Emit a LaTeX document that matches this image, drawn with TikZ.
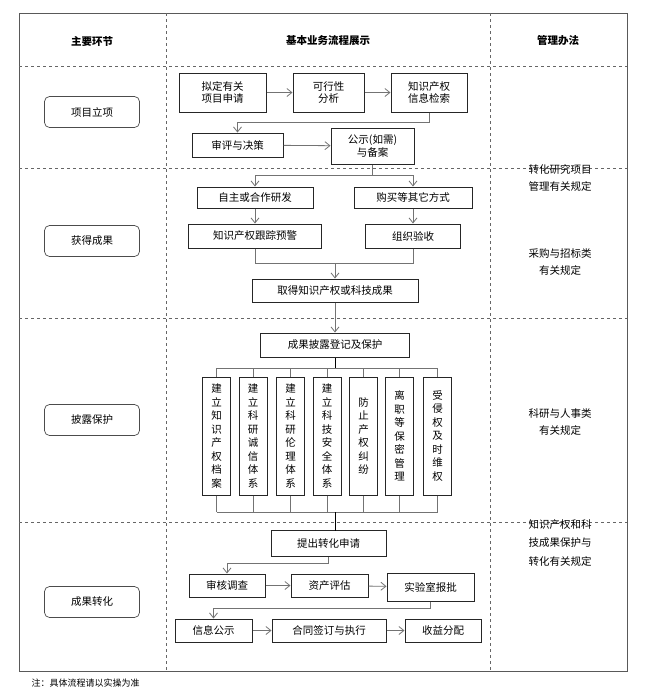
\documentclass[tikz,border=0pt]{standalone}
\usepackage{fontspec}
\setmainfont{Noto Sans CJK SC}
\usetikzlibrary{arrows.meta}
\begin{document}
\begin{tikzpicture}[x=1pt,y=-1pt,
  bx/.style={draw=black!85,line width=1pt,inner sep=0pt,align=center,font=\fontsize{10.5}{12.5}\selectfont},
  lab/.style={draw=black!70,rounded corners=5pt,line width=0.7pt,minimum width=95pt,minimum height=31pt,font=\fontsize{10.5}{12}\selectfont},
  ln/.style={draw=black!55,line width=0.8pt},
  ar/.style={ln,-{Straight Barb[length=5pt,width=8pt]}},
  dv/.style={draw=black!60,dashed,line width=0.5pt},
  vt/.style={bx,align=center}]
\useasboundingbox (0,0) rectangle (655,689);
% frame
\draw[black!65,line width=1pt] (19,13) rectangle (627,671);
\draw[dv] (166,13) -- (166,671);
\draw[dv] (490,13) -- (490,671);
\foreach \y in {66,168,318,522} \draw[dv] (19,\y) -- (627,\y);
% headers
\node[font=\bfseries\fontsize{10.5}{12}\selectfont] (h1) at (92,41) {主要环节};
\node[font=\bfseries\fontsize{10.5}{12}\selectfont] (h2) at (328,41) {基本业务流程展示};
\node[font=\bfseries\fontsize{10.5}{12}\selectfont] (h3) at (558,41) {管理办法};
% stage labels
\node[lab] (s1) at (92,112) {项目立项};
\node[lab] (s2) at (92,241) {获得成果};
\node[lab] (s3) at (92,420) {披露保护};
\node[lab] (s4) at (92,602) {成果转化};
% right texts
\node[align=center,font=\fontsize{10.5}{17}\selectfont] (r1) at (560,178) {转化研究项目\\管理有关规定};
\node[align=center,font=\fontsize{10.5}{17}\selectfont] (r2) at (560,262) {采购与招标类\\有关规定};
\node[align=center,font=\fontsize{10.5}{17}\selectfont] (r3) at (560,422) {科研与人事类\\有关规定};
\node[align=center,font=\fontsize{10.5}{18.5}\selectfont] (r4) at (560,543) {知识产权和科\\技成果保护与\\转化有关规定};
\node[anchor=west,font=\fontsize{9}{11}\selectfont] (note) at (28,683) {注：具体流程请以实操为准};
% row 1
\node[bx,minimum width=87pt,minimum height=39pt] (a1) at (222.5,92.5) {拟定有关\\项目申请};
\node[bx,minimum width=71pt,minimum height=39pt] (a2) at (328.5,92.5) {可行性\\分析};
\node[bx,minimum width=76pt,minimum height=39pt] (a3) at (429,92.5) {知识产权\\信息检索};
\node[bx,minimum width=91pt,minimum height=24pt] (a4) at (237.5,145) {审评与决策};
\node[bx,minimum width=83pt,minimum height=36pt] (a5) at (372.5,146) {公示(如需)\\与备案};
\draw[ar] (a1) -- (a2);
\draw[ar] (a2) -- (a3);
\draw[ar] (a3.south) |- (237.5,122) -- (a4.north);
\draw[ar] (a4) -- (a5);
% row 2
\node[bx,minimum width=116pt,minimum height=21pt] (b1) at (255,197.5) {自主或合作研发};
\node[bx,minimum width=118pt,minimum height=21pt] (b2) at (413,197.5) {购买等其它方式};
\node[bx,minimum width=133pt,minimum height=24pt] (b3) at (255,236) {知识产权跟踪预警};
\node[bx,minimum width=95pt,minimum height=24pt] (b4) at (413,236) {组织验收};
\node[bx,minimum width=166pt,minimum height=23pt] (b5) at (335,290.5) {取得知识产权或科技成果};
\coordinate (j1) at (372.5,175);
\draw[ln] (a5.south) -- (j1);
\draw[ar] (j1) -| (b1.north);
\draw[ar] (j1) -| (b2.north);
\draw[ar] (b1) -- (b3);
\draw[ar] (b2) -- (b4);
\coordinate (j2) at (335,263);
\draw[ln] (b3.south) |- (j2);
\draw[ln] (b4.south) |- (j2);
\draw[ar] (j2) -- (b5.north);
% row 3
\node[bx,minimum width=149pt,minimum height=24pt] (c0) at (335,345) {成果披露登记及保护};
\draw[ar] (b5.south) -- (c0.north);
\foreach \n/\x/\t in {1/216.5/{建\\立\\知\\识\\产\\权\\档\\案},2/253/{建\\立\\科\\研\\诚\\信\\体\\系},3/290.5/{建\\立\\科\\研\\伦\\理\\体\\系},4/327/{建\\立\\科\\技\\安\\全\\体\\系},5/363.5/{防\\止\\产\\权\\纠\\纷},6/399.5/{离\\职\\等\\保\\密\\管\\理},7/437.5/{受\\侵\\权\\及\\时\\维\\权}}{
  \node[vt,minimum width=28pt,minimum height=118pt,font=\fontsize{10.5}{13.5}\selectfont] (v\n) at (\x,436) {\t};
  \draw[ln] (\x,368) -- (v\n.north);
  \draw[ln] (v\n.south) -- (\x,512);
}
\draw[ln] (216.5,368) -- (437.5,368);
\draw[ln] (216.5,512) -- (437.5,512);
\draw[ln,black] (c0.south) -- (335,368);
% row 4
\node[bx,minimum width=115pt,minimum height=26pt] (d0) at (328.5,543.5) {提出转化申请};
\draw[ln,black] (335,512) -- (335,530.5);
\node[bx,minimum width=76pt,minimum height=23pt] (d1) at (227,585.5) {审核调查};
\node[bx,minimum width=77pt,minimum height=23pt] (d2) at (329.5,585.5) {资产评估};
\node[bx,minimum width=87pt,minimum height=28pt] (d3) at (430.5,587) {实验室报批};
\node[bx,minimum width=77pt,minimum height=23pt] (e1) at (213.5,630.5) {信息公示};
\node[bx,minimum width=114pt,minimum height=23pt] (e2) at (329,630.5) {合同签订与执行};
\node[bx,minimum width=76pt,minimum height=23pt] (e3) at (443,630.5) {收益分配};
\draw[ar] (d0.south) |- (227,563) -- (d1.north);
\draw[ar] (d1) -- (d2);
\draw[ar] (d2) -- (d3);
\draw[ar] (d3.south) |- (213.5,608) -- (e1.north);
\draw[ar] (e1) -- (e2);
\draw[ar] (e2) -- (e3);
\end{tikzpicture}
\end{document}
